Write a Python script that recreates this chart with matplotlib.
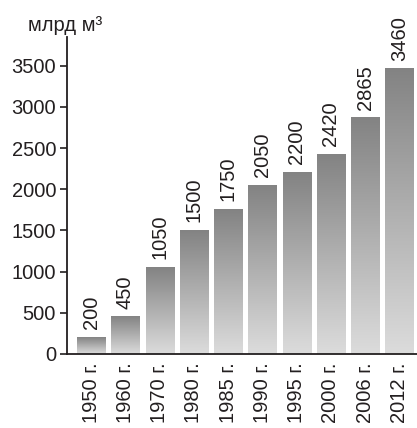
import matplotlib
matplotlib.use("Agg")
import matplotlib.pyplot as plt
import numpy as np
from matplotlib.colors import LinearSegmentedColormap

years = ["1950 г.", "1960 г.", "1970 г.", "1980 г.", "1985 г.",
         "1990 г.", "1995 г.", "2000 г.", "2006 г.", "2012 г."]
values = [200, 450, 1050, 1500, 1750, 2050, 2200, 2420, 2865, 3460]
yticks = [0, 500, 1000, 1500, 2000, 2500, 3000, 3500]

plt.rcParams['font.family'] = ['Liberation Sans', 'DejaVu Sans']
ink = "#231f20"

fig = plt.figure(figsize=(4.17, 4.28), dpi=100)
ax = fig.add_axes([0.161, 0.173, 0.839, 0.741])

# gradient: dark at the top of each bar, light at the bottom
cmap = LinearSegmentedColormap.from_list("g", ["#dcdcdc", "#838383"])
grad = np.linspace(0, 1, 256).reshape(-1, 1)
w = 0.82
x = np.arange(len(values))
for xi, v in zip(x, values):
    ax.imshow(grad, cmap=cmap, origin="lower", aspect="auto",
              extent=[xi - w / 2, xi + w / 2, 0, v], zorder=1)
    ax.annotate(str(v), (xi, v), xytext=(0, 6), textcoords="offset points",
                rotation=90, ha="center", va="bottom", fontsize=14.5, color=ink)

ax.set_xlim(-0.70, 9.51)
ax.set_ylim(0, 3850)
ax.set_xticks(x)
ax.set_xticklabels(years, rotation=90, fontsize=14.5, color=ink)
ax.set_yticks(yticks)
ax.set_yticklabels([str(t) for t in yticks], fontsize=14.5, color=ink)
ax.tick_params(axis="x", length=0, pad=6)
ax.tick_params(axis="y", length=5, width=1.2, color=ink, pad=3)

for s in ["top", "right"]:
    ax.spines[s].set_visible(False)
for s in ["left", "bottom"]:
    ax.spines[s].set_color(ink)
    ax.spines[s].set_linewidth(1.3)
    ax.spines[s].set_zorder(3)

fig.text(0.067, 0.928, "млрд м³", fontsize=14.5, color=ink, ha="left", va="baseline")

fig.savefig("out.png", dpi=100)
